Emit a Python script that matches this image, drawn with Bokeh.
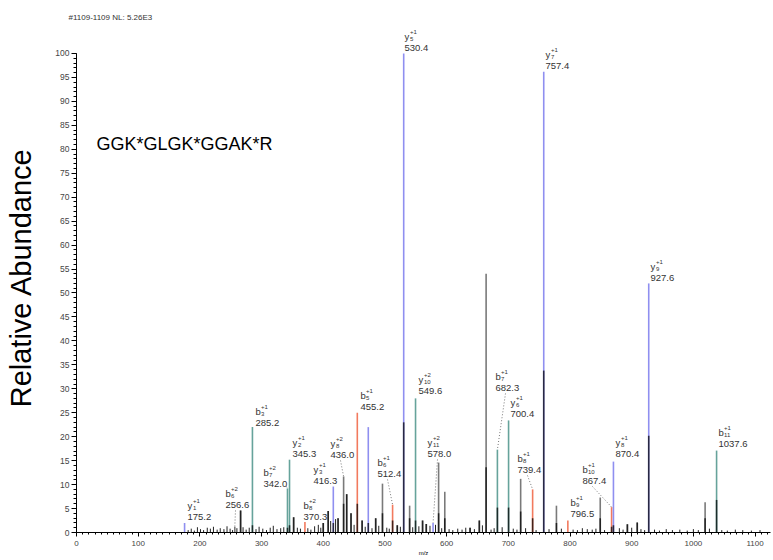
from bokeh.plotting import figure
from bokeh.models import SingleIntervalTicker, Range1d, ColumnDataSource
from bokeh.embed import file_html
from bokeh.resources import INLINE
from bokeh.core.properties import value

# ---------------- data ----------------
peak_mz = [175.2, 256.6, 266, 285.2, 342.0, 345.3, 352, 370.3, 400, 408,
           416.3, 424, 433, 438, 445, 455.2, 463, 473, 485, 496,
           512.4, 520, 530.4, 540, 549.6, 561, 567, 578.0, 587, 597,
           638, 653, 664, 682.3, 700.4, 720, 739.4, 757.4, 778, 796.5,
           849, 867.4, 870.4, 893, 909, 927.6, 1019, 1037.6]
peak_int = [2.0, 1.2, 4.6, 22.0, 9.2, 15.2, 3.2, 2.2, 2.0, 4.5,
            9.6, 3.0, 11.7, 8.0, 4.0, 25.0, 2.5, 22.0, 3.0, 10.2,
            5.8, 1.5, 100.0, 5.6, 28.0, 2.5, 1.8, 2.0, 14.6, 8.5,
            1.0, 2.5, 54.0, 17.3, 23.4, 11.2, 9.0, 96.2, 5.6, 2.5,
            7.3, 5.3, 14.8, 1.7, 2.1, 52.0, 6.3, 17.1]
peak_core = [0, 0, 4.6, 1.5, 1.0, 1.5, 3.2, 0, 2.0, 4.5,
             2.0, 3.0, 6.0, 8.0, 4.0, 6.0, 2.5, 2.0, 3.0, 4.0,
             2.5, 1.5, 23.0, 3.0, 2.5, 2.5, 1.8, 0, 4.0, 3.0,
             1.0, 2.5, 13.6, 5.2, 5.2, 4.4, 3.0, 33.8, 2.0, 0,
             3.0, 1.2, 1.5, 1.7, 2.1, 20.2, 3.0, 6.8]
peak_type = ['y', 'n', 'n', 't', 't', 't', 'n', 'b', 'n', 'n',
             'y', 'n', 'n', 'n', 'n', 'b', 'n', 'y', 'n', 'n',
             'b', 'n', 'y', 'n', 't', 'n', 'n', 'y', 'n', 'n',
             'n', 'n', 'n', 't', 't', 'n', 'b', 'y', 'n', 'b',
             'n', 'b', 'y', 'n', 'n', 'y', 'n', 't']

noise_mz = [181, 186, 191, 196, 201, 206, 212, 217, 222, 228,
            233, 239, 244, 249, 253, 260, 270, 275, 280, 291,
            296, 302, 308, 314, 319, 325, 331, 336, 358, 363,
            375, 380, 386, 392, 396, 412, 420, 450, 468, 479,
            490, 503, 507, 525, 545, 555, 573, 582, 592, 604,
            610, 618, 625, 631, 645, 658, 672, 677, 690, 708,
            714, 728, 745, 766, 786, 805, 812, 820, 828, 836,
            842, 856, 880, 886, 900, 915, 921, 937, 945, 956,
            966, 978, 990, 1000, 1008, 1026, 1046, 1055, 1068, 1080,
            1094, 1108]
noise_int = [0.5, 0.8, 0.4, 1.1, 0.7, 0.5, 1.0, 0.8, 1.2, 0.6,
             0.9, 0.7, 1.3, 0.8, 0.5, 0.9, 1.1, 0.6, 1.0, 0.7,
             1.2, 0.8, 0.5, 1.0, 1.4, 0.7, 0.9, 1.1, 1.0, 0.8,
             0.9, 0.6, 1.3, 1.6, 1.0, 2.4, 2.8, 1.6, 1.2, 0.9,
             1.4, 1.0, 0.8, 1.2, 1.1, 1.3, 1.4, 1.6, 0.9, 0.7,
             0.5, 0.8, 0.6, 1.0, 0.7, 1.5, 0.6, 0.9, 1.1, 0.8,
             0.6, 0.9, 0.5, 0.7, 0.8, 0.6, 0.5, 0.9, 0.7, 0.6,
             0.8, 0.5, 0.9, 0.6, 1.0, 0.7, 0.5, 0.6, 0.4, 0.7,
             0.5, 0.6, 0.4, 0.7, 0.5, 0.8, 0.5, 0.4, 0.6, 0.5,
             0.4, 0.5]

# fragment annotations
lab_ion = ['y', 'b', 'b', 'b', 'y', 'b', 'y', 'y', 'b', 'b', 'y',
           'y', 'y', 'b', 'y', 'b', 'y', 'b', 'b', 'y', 'y', 'b']
lab_sub = ['1', '6', '3', '7', '2', '8', '3', '8', '5', '6', '5',
           '10', '11', '7', '6', '8', '7', '9', '10', '8', '9', '11']
lab_chg = ['+1', '+2', '+1', '+2', '+1', '+2', '+1', '+2', '+1', '+1', '+1',
           '+2', '+2', '+1', '+1', '+1', '+1', '+1', '+1', '+1', '+1', '+1']
lab_val = ['175.2', '256.6', '285.2', '342.0', '345.3', '370.3', '416.3',
           '436.0', '455.2', '512.4', '530.4', '549.6', '578.0', '682.3',
           '700.4', '739.4', '757.4', '796.5', '867.4', '870.4', '927.6', '1037.6']
lab_target = [None, 256.6, None, 342.0, None, None, None, 433, None, 512.4, None,
              None, 578.0, 682.3, None, 739.4, None, None, 867.4, None, None, None]

peptide = "GGK*GLGK*GGAK*R"
header = "#1109-1109 NL: 5.26E3"

# ---------------- layout ----------------
W, H = 772, 560
BL, BR, BT, BB = 76, 2, 22, 28
X_END = 1125.0
Y_END = 106.47
FRAME_LEFT, FRAME_BOTTOM = float(BL), float(H - BB)
XS = (W - BL - BR) / X_END
YS = (H - BT - BB) / Y_END

def d(xpx, ypx):
    return (xpx - FRAME_LEFT) / XS, (FRAME_BOTTOM - ypx) / YS

# label anchor positions in page px (left edge, centre of number line)
lab_pos = [(187, 516), (225, 504), (255, 422), (263, 483), (292, 453), (303, 516),
           (313, 480), (330, 454), (360, 406), (377, 473), (404, 47), (418, 390),
           (427, 453), (495, 387), (510, 413), (517, 469), (545, 65), (570, 513),
           (582, 480), (615, 453), (650, 277), (718, 443)]

colors = {'y': '#8f8ff0', 't': '#66a39b', 'b': '#f27a5e', 'n': '#7a7a7a'}

p = figure(width=W, height=H, output_backend="svg", toolbar_location=None,
           x_range=Range1d(0, X_END), y_range=Range1d(0, Y_END),
           min_border_left=BL, min_border_right=BR, min_border_top=BT,
           min_border_bottom=BB)
p.grid.visible = False
p.outline_line_color = None
p.background_fill_color = "white"

p.title.text = header
p.title.text_font = "Liberation Sans"
p.title.text_font_size = "8px"
p.title.text_font_style = "normal"
p.title.text_color = "#333333"
p.title.align = "left"
p.title.offset = -8
p.title.standoff = 2

# noise sticks
p.segment(x0=noise_mz, y0=[0] * len(noise_mz), x1=noise_mz, y1=noise_int,
          line_color="#222222", line_width=1)

# main sticks
src = ColumnDataSource(dict(x=peak_mz, y0=[0] * len(peak_mz), top=peak_int,
                            core=peak_core,
                            color=[colors[t] for t in peak_type]))
p.segment(x0='x', y0='y0', x1='x', y1='top', source=src,
          line_color='color', line_width=1.6)
p.segment(x0='x', y0='y0', x1='x', y1='core', source=src,
          line_color='black', line_alpha=0.72, line_width=1.6)

# labels
font = value("Liberation Sans")
num_x, num_y, let_x, let_y, sub_x, sub_y, sup_x, sup_y = [], [], [], [], [], [], [], []
lx0, ly0, lx1, ly1 = [], [], [], []
for i, (px, py) in enumerate(lab_pos):
    nx, ny = d(px, py)
    num_x.append(nx); num_y.append(ny)
    ax, ay = d(px, py - 11)
    let_x.append(ax); let_y.append(ay)
    sx, sy = d(px + 5.5, py - 8.5)
    sub_x.append(sx); sub_y.append(sy)
    ux, uy = d(px + 5.5, py - 15.5)
    sup_x.append(ux); sup_y.append(uy)
    tgt = lab_target[i]
    if tgt is not None:
        k = peak_mz.index(tgt)
        if lab_val[i] == '342.0':
            s0 = d(px + 23, py + 3)
        else:
            s0 = d(px + 10, py + 6)
        lx0.append(s0[0]); ly0.append(s0[1])
        lx1.append(peak_mz[k]); ly1.append(peak_int[k])

p.segment(x0=lx0, y0=ly0, x1=lx1, y1=ly1, line_color="#777777",
          line_dash="1 2", line_width=1)
p.text(x=num_x, y=num_y, text=lab_val, text_font=font, text_font_size="9.5px",
       text_baseline="middle", text_align="left", text_color="#333333")
p.text(x=let_x, y=let_y, text=lab_ion, text_font=font, text_font_size="9.5px",
       text_baseline="middle", text_align="left", text_color="#333333")
p.text(x=sub_x, y=sub_y, text=lab_sub, text_font=font, text_font_size="6px",
       text_baseline="middle", text_align="left", text_color="#333333")
p.text(x=sup_x, y=sup_y, text=lab_chg, text_font=font, text_font_size="6px",
       text_baseline="middle", text_align="left", text_color="#333333")

# peptide sequence
sx_, sy_ = d(96, 143)
p.text(x=[sx_], y=[sy_], text=[peptide], text_font=font, text_font_size="18px",
       text_baseline="middle", text_align="left", text_color="black")

# axes
p.xaxis.ticker = SingleIntervalTicker(interval=100, num_minor_ticks=10)
p.yaxis.ticker = SingleIntervalTicker(interval=5, num_minor_ticks=5)
p.yaxis.bounds = (0, 100)
for ax in (p.xaxis[0], p.yaxis[0]):
    ax.axis_line_color = "black"
    ax.major_tick_line_color = "black"
    ax.minor_tick_line_color = "black"
    ax.major_tick_in = 0
    ax.minor_tick_in = 0
    ax.major_label_text_font = "Liberation Sans"
    ax.major_label_text_color = "#444444"
    ax.axis_label_text_font = "Liberation Sans"
    ax.axis_label_text_font_style = "normal"
    ax.axis_label_text_color = "black"

p.xaxis.major_tick_out = 4
p.xaxis.minor_tick_out = 2
p.xaxis.major_label_text_font_size = "8px"
p.xaxis.major_label_standoff = 4
p.xaxis.axis_label = "m/z"
p.xaxis.axis_label_text_font_size = "6px"
p.xaxis.axis_label_standoff = 1

p.yaxis.major_tick_out = 5
p.yaxis.minor_tick_out = 3
p.yaxis.major_label_text_font_size = "8.5px"
p.yaxis.major_label_standoff = 2
p.yaxis.axis_label = "Relative Abundance"
p.yaxis.axis_label_text_font_size = "29px"
p.yaxis.axis_label_standoff = 15

open("out.html", "w").write(file_html(p, INLINE))
